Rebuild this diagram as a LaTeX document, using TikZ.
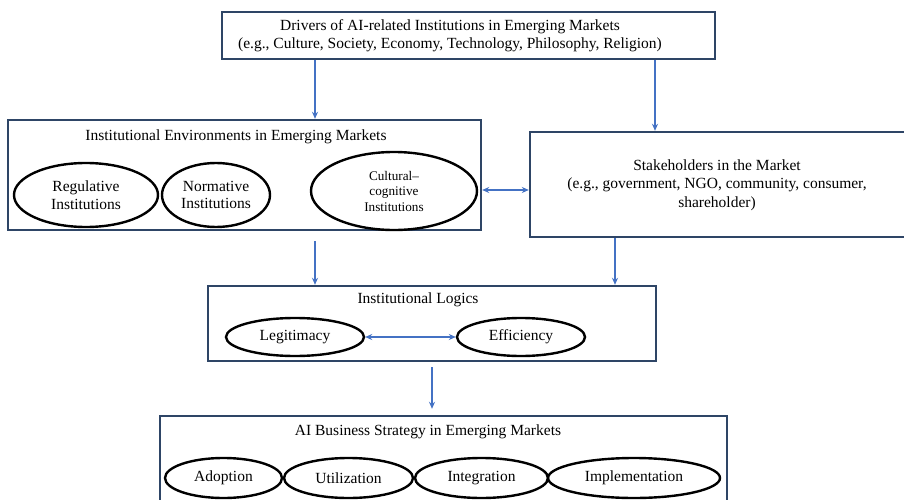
\documentclass[tikz,border=0pt]{standalone}
\usepackage{fontspec}
\setmainfont{Liberation Serif}
\usetikzlibrary{arrows.meta,shapes.geometric}
\definecolor{navy}{HTML}{2E4566}
\definecolor{arrblue}{HTML}{4472C4}
\begin{document}
\begin{tikzpicture}[x=1pt,y=-1pt,
  box/.style={draw=navy,line width=2.4pt,rectangle,inner sep=0pt,fill=white},
  ell/.style={draw=black,line width=2.4pt,ellipse,inner sep=0pt,align=center,font=\fontsize{15.5}{17.5}\selectfont},
  ttl/.style={font=\fontsize{15.5}{18.5}\selectfont,align=center,inner sep=0pt},
  arr/.style={draw=arrblue,line width=1.3pt,-{Stealth[length=7pt,width=6pt]}},
  darr/.style={draw=arrblue,line width=1.3pt,{Stealth[length=7pt,width=6pt]}-{Stealth[length=7pt,width=6pt]}}]
\useasboundingbox (0,0) rectangle (904,500);
\clip (0,0) rectangle (904,500);
\fill[white] (0,0) rectangle (904,500);
% boxes
\node[box,minimum width=493pt,minimum height=47pt] (drivers) at (468.5,35.5) {};
\node[ttl] (driverstxt) at (450,35.5) {Drivers of AI-related Institutions in Emerging Markets\\(e.g., Culture, Society, Economy, Technology, Philosophy, Religion)};
\node[box,minimum width=473pt,minimum height=110pt] (env) at (244.5,175) {};
\node[ttl] (envtxt) at (236,137) {Institutional Environments in Emerging Markets};
\node[ell,minimum width=144pt,minimum height=64pt] (reg) at (86,195) {Regulative\\Institutions};
\node[ell,minimum width=108pt,minimum height=64pt] (norm) at (216,195) {Normative\\Institutions};
\node[ell,minimum width=166pt,minimum height=78pt,font=\fontsize{13.2}{15.5}\selectfont] (cult) at (394,191) {Cultural–\\cognitive\\Institutions};
\node[box,minimum width=400pt,minimum height=105pt] (stake) at (730,184.5) {};
\node[ttl] (staketxt) at (717,185) {Stakeholders in the Market\\(e.g., government, NGO, community, consumer,\\shareholder)};
\node[box,minimum width=448pt,minimum height=75pt] (logic) at (432,323.5) {};
\node[ttl] (logictxt) at (418,300) {Institutional Logics};
\node[ell,minimum width=138pt,minimum height=38pt] (legit) at (295,337) {Legitimacy};
\node[ell,minimum width=128pt,minimum height=38pt] (eff) at (521,337) {Efficiency};
\node[box,minimum width=567pt,minimum height=110pt] (strat) at (443.5,471) {};
\node[ttl] (strattxt) at (428,432) {AI Business Strategy in Emerging Markets};
\node[ell,minimum width=117pt,minimum height=40pt] (adopt) at (223.5,478) {Adoption};
\node[ell,minimum width=129pt,minimum height=40pt] (util) at (348.5,478) {Utilization};
\node[ell,minimum width=133pt,minimum height=40pt] (integ) at (481.5,478) {Integration};
\node[ell,minimum width=172pt,minimum height=40pt] (impl) at (634,478) {Implementation};
% connector x positions
\coordinate (xa) at (315,0);
\coordinate (xb) at (655,0);
\coordinate (xc) at (615,0);
\coordinate (xd) at (432,0);
\coordinate (ya) at (0,190);
\draw[arr] (drivers.south -| xa) -- (env.north -| xa);
\draw[arr] (drivers.south -| xb) -- (stake.north -| xb);
\draw[arr,shorten <=10pt] (env.south -| xa) -- (logic.north -| xa);
\draw[arr] (stake.south -| xc) -- (logic.north -| xc);
\draw[arr,shorten <=5pt,shorten >=6pt] (logic.south -| xd) -- (strat.north -| xd);
\draw[darr] (env.east |- ya) -- (stake.west |- ya);
\draw[darr] (legit.east) -- (eff.west);
\end{tikzpicture}
\end{document}
